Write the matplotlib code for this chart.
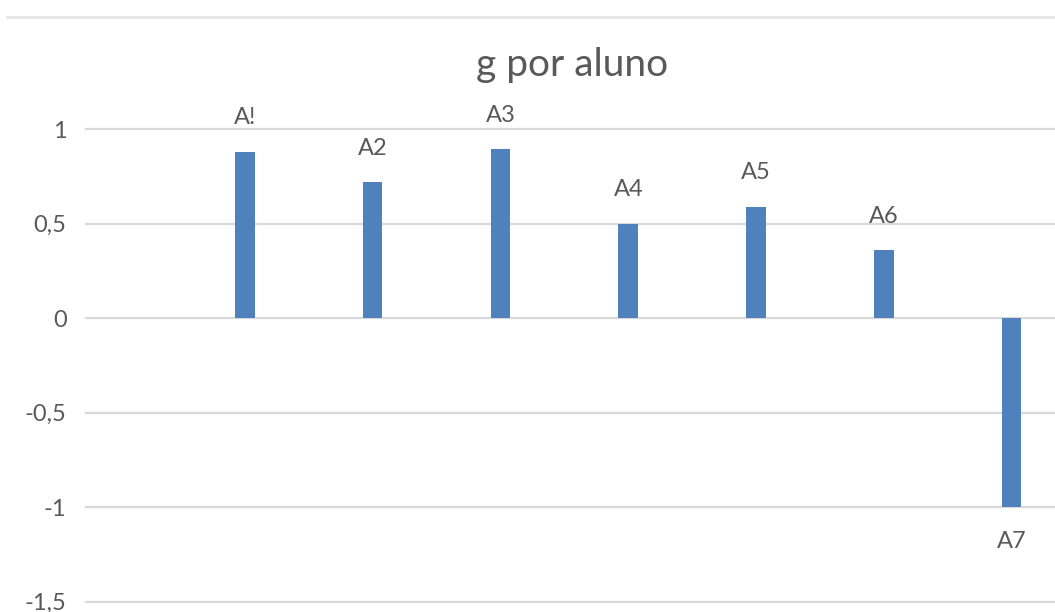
import matplotlib.pyplot as plt
from matplotlib.lines import Line2D

# --- Data ---
alunos = ['A!', 'A2', 'A3', 'A4', 'A5', 'A6', 'A7']
g_valores = [0.88, 0.72, 0.895, 0.50, 0.59, 0.36, -1.0]
y_ticks = [-1.5, -1, -0.5, 0, 0.5, 1]
y_labels = ['-1,5', '-1', '-0,5', '0', '0,5', '1']

bar_color = '#4f81bd'
text_color = '#595959'
grid_color = '#d9d9d9'

plt.rcParams['font.family'] = ['Lato', 'DejaVu Sans']

fig = plt.figure(figsize=(10.55, 6.12), dpi=100)
ax = fig.add_axes([86 / 1055, 10.3 / 612, 1 - 86 / 1055, 472.4 / 612])

pos = list(range(len(alunos)))
ax.bar(pos, g_valores, width=0.153, color=bar_color, zorder=3)

# labels above / below bars
for x, v, lab in zip(pos, g_valores, alunos):
    if v >= 0:
        ax.annotate(lab, (x, v), xytext=(0, 17), textcoords='offset points',
                    ha='center', va='bottom', fontsize=17, color=text_color)
    else:
        ax.annotate(lab, (x, v), xytext=(0, -17), textcoords='offset points',
                    ha='center', va='top', fontsize=17, color=text_color)

ax.set_xlim(-1.244, 6.34)
ax.set_ylim(-1.5, 1)
ax.set_yticks(y_ticks)
ax.set_yticklabels(y_labels)
ax.set_xticks([])
ax.tick_params(axis='y', length=0, pad=14, labelsize=17, labelcolor=text_color)
for s in ax.spines.values():
    s.set_visible(False)
for t in y_ticks:
    ax.axhline(t, color=grid_color, lw=1.6, zorder=1, clip_on=False)

fig.text(572 / 1055, 1 - 76 / 612, 'g por aluno', ha='center', va='baseline',
         fontsize=28, color=text_color)

# chart frame line at the top
fig.add_artist(Line2D([7 / 1055, 1], [1 - 17 / 612, 1 - 17 / 612],
                      color='#e6e6e6', lw=2))

plt.savefig('out.png', dpi=100)
plt.close()
